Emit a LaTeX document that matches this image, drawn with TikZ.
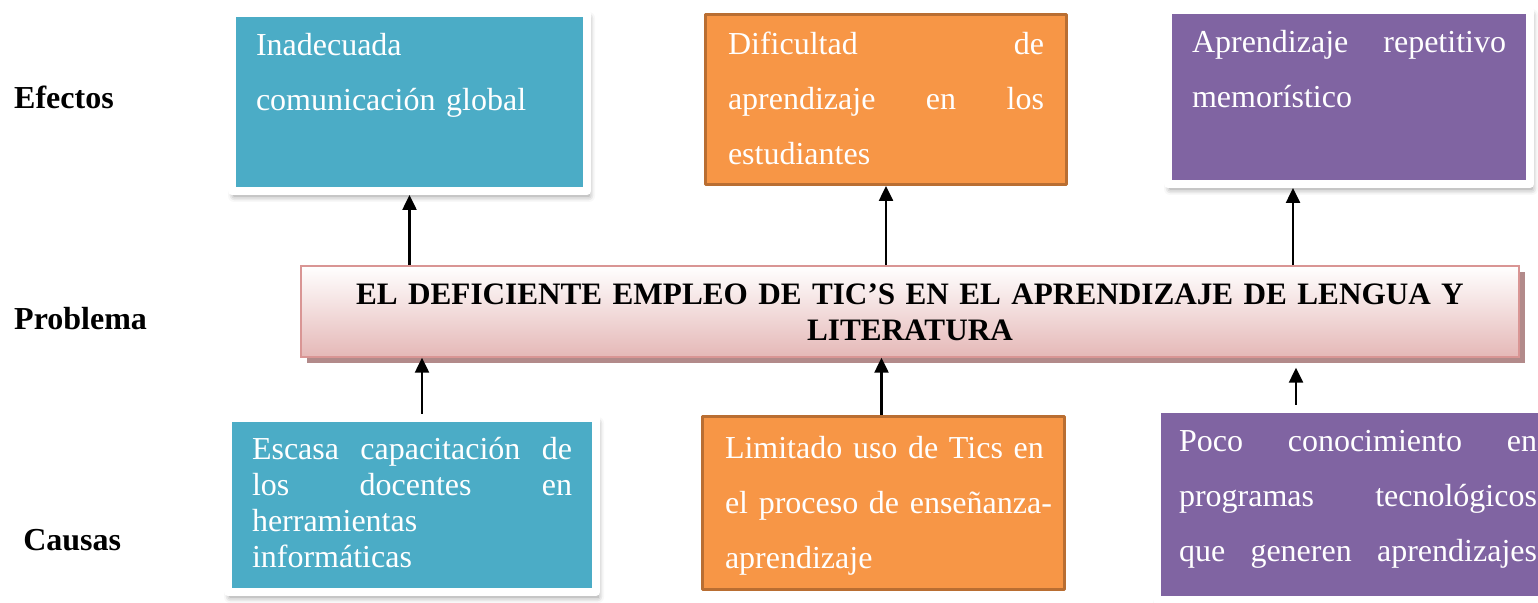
\documentclass[tikz,border=0pt]{standalone}
\usepackage{fontspec}
\setmainfont{Liberation Serif}
\usepackage{tikz}
\usetikzlibrary{arrows.meta,shadows,shadows.blur}
\definecolor{bluefill}{RGB}{75,172,198}
\definecolor{orangefill}{RGB}{247,150,70}
\definecolor{orangeline}{RGB}{185,110,50}
\definecolor{purplefill}{RGB}{128,100,162}
\definecolor{pinkline}{RGB}{217,149,148}
\definecolor{pinkfill}{RGB}{229,184,183}
\definecolor{pinkshade}{RGB}{178,138,138}
\newcommand{\jline}[1]{\leavevmode\hbox to\hsize{#1}}

\begin{document}
\begin{tikzpicture}[x=0.5pt,y=-0.5pt,->,>={Triangle[width=7pt,length=7.5pt]},line width=1.25pt,
   lbl/.style={font=\bfseries\fontsize{16}{19}\selectfont,inner sep=0pt,anchor=base west},
   wbox/.style={draw=white,line width=4pt,line join=round,inner ysep=0pt,text=white,align=left,
     font=\fontsize{16}{27.5}\selectfont,
     blur shadow={shadow xshift=1pt,shadow yshift=-2.5pt,shadow blur radius=3pt,shadow opacity=45}},
   obox/.style={draw=orangeline,fill=orangefill,line width=1.5pt,line join=round,inner ysep=0pt,
     inner xsep=11.25pt,text=white,align=left,font=\fontsize{16}{27.5}\selectfont}]
  \useasboundingbox (0,0) rectangle (1538,603);
  \node[lbl] (lef) at (13,109) {Efectos};
  \node[lbl] (lpr) at (13,330) {Problema};
  \node[lbl] (lca) at (22,551) {Causas};
  \node[wbox,fill=bluefill,inner xsep=12pt,text width=153.5pt,text height=21.5pt,text depth=67.5pt] (ef1) at (409.5,102) {Inadecuada\\comunicación global};
  \node[obox,text width=158pt,text height=20.25pt,text depth=64.75pt] (ef2) at (886,99.5) {\jline{Dificultad\hfill de}\\\jline{aprendizaje\hfill en\hfill los}\\estudiantes};
  \node[wbox,fill=purplefill,inner xsep=12pt,text width=157pt,text height=21.5pt,text depth=65.5pt] (ef3) at (1349,97) {\jline{Aprendizaje\hfill repetitivo}\\memorístico};
  \node[draw=pinkline,line width=0.75pt,top color=white,bottom color=pinkfill,
     general shadow={fill=pinkshade,shadow xshift=3pt,shadow yshift=-3pt},
     font=\bfseries\fontsize{15.6}{18}\selectfont,align=center,inner xsep=10pt,inner ysep=0pt,
     text width=589pt,text height=19.5pt,text depth=26pt] (pr) at (910,311.5) {EL DEFICIENTE EMPLEO DE TIC’S EN EL APRENDIZAJE DE LENGUA Y\\LITERATURA};
  \node[wbox,fill=bluefill,inner xsep=12pt,text width=160pt,text height=21pt,text depth=66pt,font=\fontsize{16}{18}\selectfont] (ca1) at (412,505) {\jline{Escasa\hfill capacitación\hfill de}\\\jline{los\hfill docentes\hfill en}\\herramientas\\informáticas};
  \node[obox,text width=158.5pt,text height=21.25pt,text depth=65.25pt] (ca2) at (883.5,503) {\mbox{Limitado uso de Tics en}\\\mbox{el proceso de enseñanza-}\\aprendizaje};
  \node[wbox,fill=purplefill,inner xsep=11pt,text width=179pt,text height=21.5pt,text depth=74pt] (ca3) at (1358,504.5) {\jline{Poco\hfill conocimiento\hfill en}\\\jline{programas\hfill tecnológicos}\\\jline{que\hfill generen\hfill aprendizajes}};
  \draw (ef1.south |- pr.north) -- (ef1.south);
  \draw (ef2.south |- pr.north) -- (ef2.south);
  \draw ([xshift=-28pt]ef3.south |- pr.north) -- ([xshift=-28pt]ef3.south);
  \draw ([xshift=5pt]ca1.north) -- ([xshift=5pt]ca1.north |- pr.south);
  \draw ([xshift=-1pt]ca2.north) -- ([xshift=-1pt]ca2.north |- pr.south);
  \draw[shorten >=5pt] ([xshift=-31pt]ca3.north) -- ([xshift=-31pt]ca3.north |- pr.south);
\end{tikzpicture}
\end{document}
